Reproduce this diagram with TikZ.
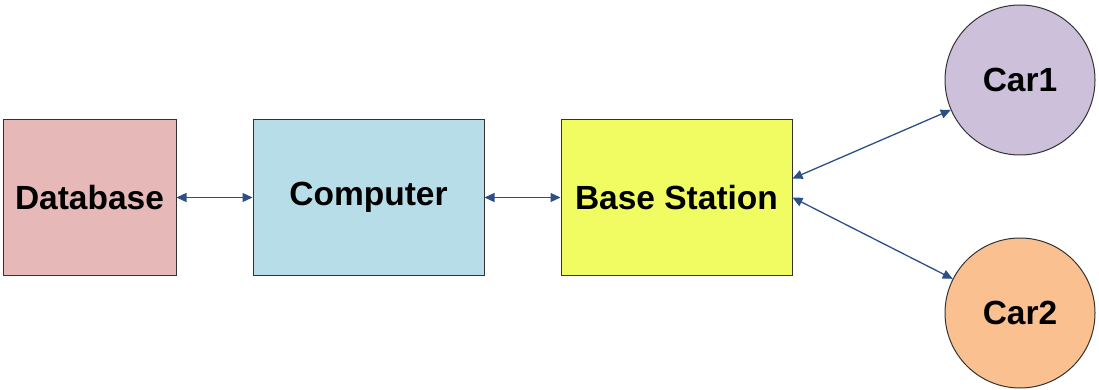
\documentclass[tikz,border=0pt]{standalone}
\usepackage{fontspec}
\setmainfont{Liberation Sans}
\usetikzlibrary{arrows.meta}
\definecolor{dbfill}{HTML}{E6B9B8}
\definecolor{compfill}{HTML}{B7DEE8}
\definecolor{bsfill}{HTML}{F0FC62}
\definecolor{caronefill}{HTML}{CCC0DA}
\definecolor{cartwofill}{HTML}{FAC090}
\definecolor{arrowblue}{HTML}{2C4F85}
\tikzset{
  box/.style={draw=black!80, line width=1pt, inner sep=0pt, font=\fontsize{33.5}{38}\selectfont\bfseries},
  car/.style={draw=black!80, line width=1pt, circle, inner sep=0pt, minimum size=150pt, font=\fontsize{33.5}{38}\selectfont\bfseries},
  link/.style={draw=arrowblue, line width=1.3pt, {Triangle[length=10pt,width=9pt]}-{Triangle[length=10pt,width=9pt]}}
}
\begin{document}
\begin{tikzpicture}[x=1pt,y=-1pt]
\useasboundingbox (0,0) rectangle (1099,390);
\node[box, fill=dbfill, minimum width=173pt, minimum height=155pt] (db) at (89.5,197.5) {Database};
\node[box, fill=compfill, minimum width=231pt, minimum height=155pt] (comp) at (368.5,197.5) {Computer};
\node[box, fill=bsfill, minimum width=231pt, minimum height=155pt] (bs) at (676.5,197.5) {Base Station};
\node[car, fill=caronefill] (car1) at (1020,80) {Car1};
\node[car, fill=cartwofill] (car2) at (1020,313) {Car2};
\draw[link] (db.east) -- (comp.west);
\draw[link] (comp.east) -- (bs.west);
\draw[link] ([yshift=19pt]bs.east) -- (car1);
\draw[link] (bs.east) -- (car2);
\end{tikzpicture}
\end{document}
